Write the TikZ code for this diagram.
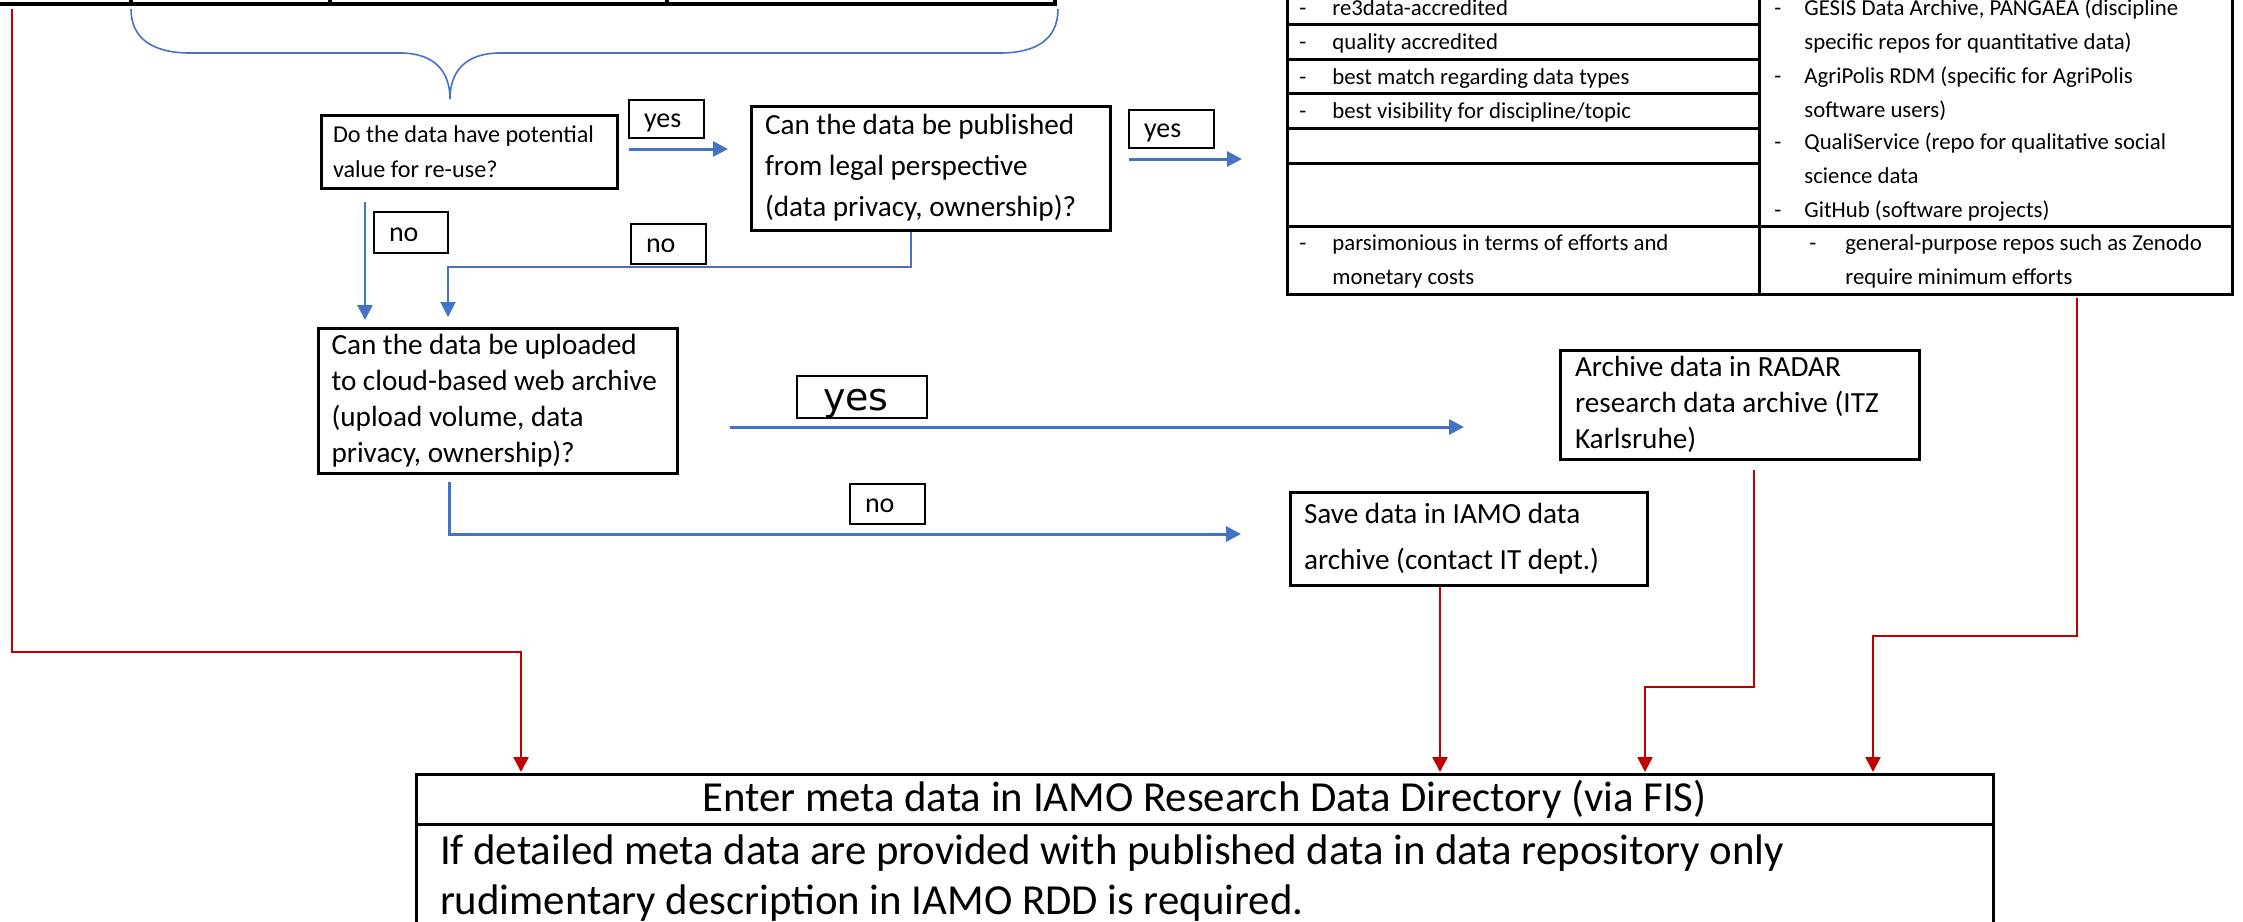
\documentclass[tikz,border=0pt]{standalone}
\usepackage{fontspec}
\setmainfont{Carlito}
\newfontfamily\yesfont{DejaVu Sans}
\usetikzlibrary{arrows.meta}
\definecolor{flowblue}{HTML}{4472C4}
\definecolor{flowred}{HTML}{C00000}
\tikzset{
  qbox/.style={draw, line width=1.5pt, outer sep=0pt, anchor=north west, inner ysep=0pt, align=flush left},
  tagbox/.style={draw, line width=1.4pt, outer sep=0pt, anchor=north west, inner xsep=7.5pt, inner ysep=0pt, align=flush left, text height=8.5pt, text depth=0pt, font=\fontsize{14}{16}\selectfont},
  tbl/.style={line width=1.5pt},
  cell/.style={anchor=mid west, inner sep=0pt, font=\fontsize{11.4}{16.8}\selectfont},
  blueflow/.style={flowblue, line width=1.5pt, -{Triangle[length=7.5pt,width=7.5pt]}},
  redflow/.style={flowred, line width=1.25pt, -{Triangle[length=7.5pt,width=7.5pt]}},
}
\begin{document}
\begin{tikzpicture}[x=0.5pt,y=-0.5pt]
\clip (0,0) rectangle (2243,921);

% table cut off at the top left
\node[draw, line width=2pt, outer sep=0pt, inner sep=0pt, anchor=south east, minimum width=535pt, minimum height=30pt] (grid) at (1055,4) {};
\foreach \x in {131,330,667} \draw[line width=2pt] (\x,-60) -- (\x,4);

% brace
\draw[flowblue, line width=0.8pt] (131,9) .. controls (131,38) and (152,53) .. (190,53) -- (400,53) .. controls (435,53) and (450,72) .. (450,99) .. controls (450,72) and (465,53) .. (500,53) -- (1000,53) .. controls (1038,53) and (1058,38) .. (1058,9);

% questions
\node[qbox, minimum height=36.5pt, text width=136pt, inner xsep=6pt, font=\fontsize{12.1}{17.5}\selectfont] (reuse) at (321,115) {Do the data have potential\\value for re-use?};
\node[qbox, minimum height=62pt, text width=165.5pt, inner xsep=7pt, font=\fontsize{14.6}{20.5}\selectfont] (legal) at (751,106) {Can the data be published\\from legal perspective\\(data privacy, ownership)?};
\node[qbox, minimum height=72.5pt, text width=166pt, inner xsep=6.75pt, font=\fontsize{14.6}{18}\selectfont] (upload) at (318,328) {Can the data be uploaded\\to cloud-based web archive\\(upload volume, data\\privacy, ownership)?};
\node[qbox, minimum height=54.5pt, text width=164.5pt, inner xsep=7.5pt, font=\fontsize{14.6}{18}\selectfont] (radar) at (1560,350) {Archive data in RADAR\\research data archive (ITZ\\Karlsruhe)};
\node[qbox, minimum height=46.5pt, text width=164.5pt, inner xsep=7pt, font=\fontsize{14.6}{23}\selectfont] (save) at (1290,492) {Save data in IAMO data\\archive (contact IT dept.)};

% yes / no tags
\node[tagbox, minimum height=19pt, text width=22.5pt] (yesA) at (629,100) {yes};
\node[tagbox, minimum height=19pt, text width=27.5pt] (yesB) at (1129,110) {yes};
\node[tagbox, minimum height=20.5pt, text width=22pt] (noA) at (374,212) {no};
\node[tagbox, minimum height=20pt, text width=22.5pt] (noB) at (631,224) {no};
\node[tagbox, minimum height=21pt, inner xsep=13pt, text width=39pt, text height=13.4pt, font=\yesfont\fontsize{19}{21}\selectfont] (yesC) at (797,376) {yes};
\node[tagbox, minimum height=20pt, text width=22.5pt] (noC) at (850,484) {no};

% repository table
\node[draw, tbl, outer sep=0pt, inner sep=0pt, anchor=south east, minimum width=472.5pt, minimum height=170pt] (crit) at (2232,294) {};
\draw[tbl] (1759,-46) -- (1759,294);
\foreach \y in {24,59,93,128,163} \draw[tbl] (1287,\y) -- (1759,\y);
\draw[tbl] (1287,226) -- (2232,226);
\foreach \y in {11,45,80,114,246} \node[cell] (dl\y) at (1299,\y) {-};
\node[cell] (re3) at (1332,11) {re3data-accredited};
\node[cell] (qual) at (1332,45) {quality accredited};
\node[cell] (match) at (1332,80) {best match regarding data types};
\node[cell] (vis) at (1332,114) {best visibility for discipline/topic};
\node[cell] (pars) at (1332,246) {parsimonious in terms of efforts and};
\node[cell] (parsb) at (1332,280) {monetary costs};
\foreach \y in {11,79,145,213} \node[cell] (dr\y) at (1774,\y) {-};
\node[cell] (gesis) at (1804,11) {GESIS Data Archive, PANGAEA (discipline};
\node[cell] (gesisb) at (1804,45) {specific repos for quantitative data)};
\node[cell] (agri) at (1804,79) {AgriPolis RDM (specific for AgriPolis};
\node[cell] (agrib) at (1804,113) {software users)};
\node[cell] (quali) at (1804,145) {QualiService (repo for qualitative social};
\node[cell] (qualib) at (1804,179) {science data};
\node[cell] (git) at (1804,213) {GitHub (software projects)};
\node[cell] (dgen) at (1809,246) {-};
\node[cell] (gen) at (1845,246) {general-purpose repos such as Zenodo};
\node[cell] (genb) at (1845,280) {require minimum efforts};

% directory box
\node[draw, line width=1.5pt, outer sep=0pt, inner sep=0pt, anchor=north west, minimum width=788.5pt, minimum height=25pt, font=\fontsize{21.4}{24}\selectfont] (rddhead) at (416,774) {Enter meta data in IAMO Research Data Directory (via FIS)};
\node[draw, line width=1.5pt, outer sep=0pt, inner xsep=12pt, inner ysep=0pt, anchor=north west, text width=764.5pt, minimum height=54pt, align=flush left, font=\fontsize{21.4}{25}\selectfont] (rddbody) at (rddhead.south west) {If detailed meta data are provided with published data in data repository only\\rudimentary description in IAMO RDD is required.};

% blue flow
\draw[blueflow] ([shift={(12,-2.5)}]reuse.east) -- ([shift={(-23,43)}]legal.north west);
\draw[blueflow] ([shift={(19,-9)}]legal.east) -- ([shift={(-45,35)}]crit.west);
\draw[blueflow, line width=1.4pt] ([shift={(44,14)}]reuse.south west) -- ([shift={(47,-8)}]upload.north west);
\draw[blueflow, line width=1pt] ([shift={(160,2)}]legal.south west) -- ++(0,35) -| ([shift={(130,-11)}]upload.north west);
\draw[blueflow] ([shift={(53,26.5)}]upload.east) -- ([shift={(-96,22.5)}]radar.west);
\draw[blueflow] ([shift={(131,9)}]upload.south west) |- ([shift={(-49,-4.5)}]save.west);

% red flow
\draw[redflow] ([shift={(27,5)}]grid.south west) -- ++(0,643) -| ([shift={(105,-2)}]rddhead.north west);
\draw[redflow] ([shift={(150,2)}]save.south west) -- ([shift={(1024,-2)}]rddhead.north west);
\draw[redflow] ([shift={(194,11)}]radar.south west) -- ++(0,217) -| ([shift={(1229,-2)}]rddhead.north west);
\draw[redflow] ([shift={(-155,4)}]crit.south east) -- ++(0,338) -| ([shift={(1457,-2)}]rddhead.north west);
\end{tikzpicture}
\end{document}
